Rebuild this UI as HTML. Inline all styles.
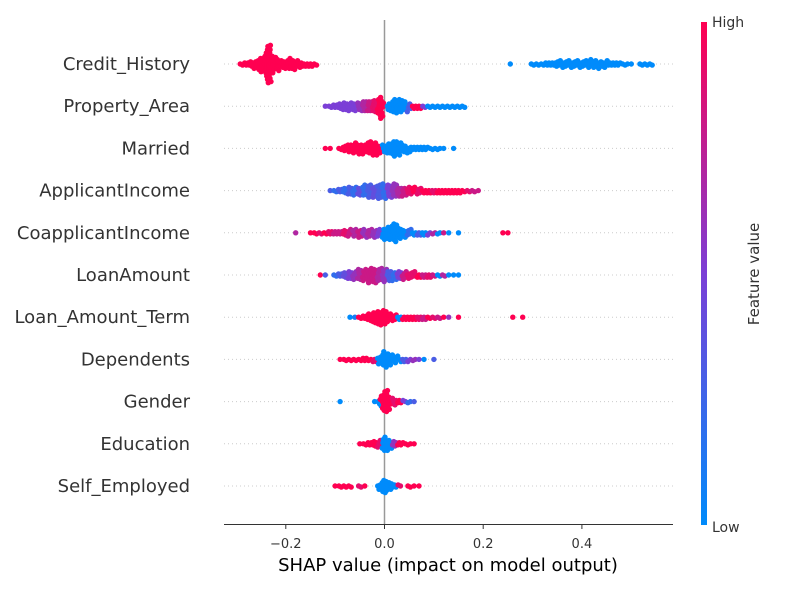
<!DOCTYPE html>
<html><head><meta charset="utf-8"><style>
body{margin:0;background:#fff;}
svg{display:block;font-family:"DejaVu Sans","Liberation Sans",sans-serif;}
</style></head><body>
<svg id="chart" width="800" height="590" viewBox="0 0 800 590">
<defs><linearGradient id="cb" x1="0" y1="1" x2="0" y2="0">
<stop offset="0" stop-color="#008bfb"/><stop offset="0.5" stop-color="#7b3fd6"/><stop offset="1" stop-color="#ff0051"/></linearGradient></defs>
<g id="grid"></g>
<line x1="384.5" y1="20" x2="384.5" y2="524" stroke="#999" stroke-width="1.5"/>
<g id="dots"></g>
<line x1="224" y1="524.5" x2="673" y2="524.5" stroke="#333" stroke-width="1"/>
<g id="ticks"></g>
<text x="448" y="571" font-size="18" text-anchor="middle" fill="#000">SHAP value (impact on model output)</text>
<rect x="701" y="22" width="6" height="503" fill="url(#cb)"/>
<text x="712" y="27" font-size="14" fill="#333">High</text>
<text x="712" y="532" font-size="14" fill="#333">Low</text>
<text transform="translate(759,274) rotate(-90)" font-size="15" text-anchor="middle" fill="#333">Feature value</text>
</svg>
<script>
const features=["Credit_History","Property_Area","Married","ApplicantIncome","CoapplicantIncome","LoanAmount","Loan_Amount_Term","Dependents","Gender","Education","Self_Employed"];
const xTicks=[-0.2,0,0.2,0.4];
const xTickLabels=["\u22120.2","0.0","0.2","0.4"];
// points: [shap, featureValue(0 low..1 high), count]
const ptsCredit=[[-0.29,1,2],[-0.28,1,3],[-0.27,1,4],[-0.26,1,6],[-0.25,1,9],[-0.24,1,12],[-0.235,1,12],[-0.23,1,11],[-0.22,1,8],[-0.21,1,6],[-0.20,1,6],[-0.19,1,7],[-0.18,1,5],[-0.17,1,4],[-0.16,1,3],[-0.15,1,3],[-0.14,1,2],[0.255,0,1],[0.30,0,2],[0.31,0,2],[0.32,0,2],[0.33,0,3],[0.34,0,3],[0.35,0,4],[0.36,0,4],[0.37,0,4],[0.38,0,4],[0.39,0,4],[0.40,0,4],[0.41,0,4],[0.42,0,5],[0.43,0,5],[0.44,0,4],[0.45,0,4],[0.46,0,3],[0.47,0,3],[0.48,0,2],[0.49,0,2],[0.50,0,1],[0.52,0,2],[0.53,0,2],[0.54,0,2]];
const ptsProperty=[[-0.12,0.5,1],[-0.11,0.5,2],[-0.10,0.5,3],[-0.09,0.5,4],[-0.08,0.5,5],[-0.07,0.5,6],[-0.06,0.5,6],[-0.05,0.6,6],[-0.04,0.7,7],[-0.03,0.8,7],[-0.02,0.9,8],[-0.01,1,9],[-0.005,1,7],[0.01,0,6],[0.02,0,8],[0.03,0,9],[0.04,0,7],[0.05,0.3,4],[0.06,1,3],[0.07,1,3],[0.08,0.5,2],[0.09,0,2],[0.10,0,2],[0.11,0,2],[0.12,0,2],[0.13,0,2],[0.14,0,2],[0.15,0,2],[0.16,0,2]];
const ptsMarried=[[-0.12,1,1],[-0.11,1,1],[-0.09,1,2],[-0.08,1,4],[-0.07,1,5],[-0.06,1,7],[-0.05,1,7],[-0.04,1,6],[-0.03,1,8],[-0.02,1,8],[-0.01,1,6],[0.0,0,5],[0.01,0,7],[0.02,0,9],[0.03,0,8],[0.04,0,5],[0.05,0,4],[0.06,0,3],[0.07,0,3],[0.08,0,3],[0.09,0,2],[0.10,0,2],[0.11,0,2],[0.12,0,1],[0.14,0,1]];
const ptsApplicant=[[-0.11,0.3,1],[-0.10,0.2,2],[-0.09,0.3,3],[-0.08,0.2,4],[-0.07,0.3,5],[-0.06,0.2,6],[-0.05,0.4,6],[-0.04,0.2,7],[-0.03,0.3,8],[-0.02,0.4,8],[-0.01,0.3,9],[0.0,0.2,9],[0.01,0.5,8],[0.02,0.6,8],[0.03,0.7,7],[0.04,0.8,6],[0.05,0.9,5],[0.06,1,4],[0.07,0.9,4],[0.08,1,3],[0.09,1,3],[0.10,0.9,3],[0.11,1,3],[0.12,1,3],[0.13,1,3],[0.14,1,3],[0.15,1,3],[0.16,1,2],[0.17,0.9,2],[0.18,0.8,2],[0.19,0.8,1]];
const ptsCoapp=[[-0.18,0.7,1],[-0.15,1,1],[-0.14,1,2],[-0.13,0.9,2],[-0.12,1,2],[-0.11,0.9,3],[-0.10,0.8,3],[-0.09,0.8,3],[-0.08,0.9,4],[-0.07,0.8,4],[-0.06,0.7,5],[-0.05,0.8,5],[-0.04,0.6,5],[-0.03,0.7,5],[-0.02,0.6,5],[-0.01,0.5,5],[0.0,0,7],[0.01,0,10],[0.02,0,11],[0.03,0,8],[0.04,0,5],[0.05,0.2,4],[0.06,0,3],[0.07,0.3,3],[0.08,0,3],[0.09,0.5,2],[0.10,0.7,2],[0.11,0,2],[0.12,0.8,1],[0.13,0,1],[0.15,0,1],[0.24,1,1],[0.25,1,1]];
const ptsLoan=[[-0.13,1,1],[-0.12,0.3,1],[-0.10,0.2,2],[-0.09,0.3,3],[-0.08,0.4,4],[-0.07,0.5,5],[-0.06,0.6,6],[-0.05,0.7,7],[-0.04,0.8,8],[-0.03,0.8,9],[-0.02,0.8,9],[-0.01,0.7,8],[0.0,0.6,8],[0.01,0.3,7],[0.02,0.2,6],[0.03,0.5,6],[0.04,0.8,5],[0.05,0.9,4],[0.06,0.9,4],[0.07,1,3],[0.08,0.8,3],[0.09,0.9,3],[0.10,0.8,2],[0.11,0,2],[0.12,0.7,2],[0.13,0,1],[0.14,0,1],[0.15,0,1]];
const ptsTerm=[[-0.07,0,1],[-0.06,0.1,1],[-0.05,1,2],[-0.04,1,3],[-0.03,1,5],[-0.02,1,8],[-0.01,1,10],[0.0,1,9],[0.01,1,5],[0.02,1,4],[0.03,0,3],[0.04,1,3],[0.05,1,3],[0.06,1,3],[0.07,0.9,3],[0.08,0.8,3],[0.09,1,2],[0.10,0.9,2],[0.11,0.8,2],[0.12,1,1],[0.13,0.6,1],[0.15,1,1],[0.26,1,1],[0.28,1,1]];
const ptsDependents=[[-0.09,1,1],[-0.08,1,2],[-0.07,1,2],[-0.06,1,2],[-0.05,1,2],[-0.04,1,3],[-0.03,1,2],[-0.02,0.9,3],[-0.01,0,5],[0.0,0,10],[0.01,0,8],[0.02,0,5],[0.03,0,3],[0.04,0.3,3],[0.05,0.5,2],[0.06,0.6,2],[0.07,0.5,1],[0.08,0,1],[0.10,0.3,1]];
const ptsGender=[[-0.09,0,1],[-0.02,0,1],[-0.01,0,3],[-0.005,1,4],[0.0,1,8],[0.005,1,6],[0.01,1,5],[0.02,0.9,4],[0.03,1,3],[0.04,0.5,2],[0.05,0.2,2],[0.06,0.3,1]];
const ptsEducation=[[-0.05,1,1],[-0.04,1,2],[-0.03,1,3],[-0.02,1,4],[-0.01,0.9,4],[0.0,0,9],[0.01,0,6],[0.02,0.6,4],[0.03,1,3],[0.04,1,2],[0.05,1,2],[0.06,1,1]];
const ptsSelf=[[-0.10,1,1],[-0.09,1,2],[-0.08,1,2],[-0.07,1,2],[-0.05,0.9,2],[-0.04,1,1],[-0.01,0,4],[0.0,0,10],[0.01,0,6],[0.02,0,3],[0.03,0.9,2],[0.05,1,2],[0.06,1,1],[0.07,1,1]];
const allPts=[ptsCredit,ptsProperty,ptsMarried,ptsApplicant,ptsCoapp,ptsLoan,ptsTerm,ptsDependents,ptsGender,ptsEducation,ptsSelf];

const NS="http://www.w3.org/2000/svg";
const xScale=v=>384.5+v*493.5;
const rowY=i=>64+i*42.2;
function mk(t,a){const e=document.createElementNS(NS,t);for(const k in a)e.setAttribute(k,a[k]);return e;}
function lerp(a,b,t){return Math.round(a+(b-a)*t);}
function colorOf(f){const s=[[0,139,251],[123,63,214],[255,0,81]];let a,b,t;if(f<0.5){a=s[0];b=s[1];t=f/0.5;}else{a=s[1];b=s[2];t=(f-0.5)/0.5;}return `rgb(${lerp(a[0],b[0],t)},${lerp(a[1],b[1],t)},${lerp(a[2],b[2],t)})`;}
const grid=document.getElementById('grid'),dots=document.getElementById('dots'),ticks=document.getElementById('ticks'),svg=document.getElementById('chart');
const binW=4.9;
features.forEach((f,i)=>{
  const y=rowY(i);
  const g=mk('line',{x1:224,x2:673,y1:y,y2:y,stroke:'#ccc','stroke-width':1,'stroke-dasharray':'1,3'});
  
  
  grid.appendChild(g);
  const t=mk('text',{x:190,y:y+6,'font-size':18,'text-anchor':'end',fill:'#333'});
  t.textContent=f;
  
  
  svg.appendChild(t);
  const list=[];
  allPts[i].forEach(p=>{const n=p[2];for(let k=0;k<n;k++)list.push({x:xScale(p[0])+(n>1?((k+0.5)/n-0.5)*binW:0),c:p[1]});});
  list.sort((a,b)=>a.x-b.x);
  const placed=[];const D=2.6;
  list.forEach(p=>{
    let off=0;
    for(let n=0;n<200;n++){
      const cand=n===0?0:(n%2?1:-1)*Math.ceil(n/2)*1.1;
      let ok=true;
      for(const q of placed){const dx=q.x-p.x;if(Math.abs(dx)<D){const dy=q.y-cand;if(dx*dx+dy*dy<D*D){ok=false;break;}}}
      if(ok){off=cand;break;}
    }
    placed.push({x:p.x,y:off});
    const c=mk('circle',{cx:p.x.toFixed(1),cy:(y+off).toFixed(1),r:2.7,fill:colorOf(p.c)});
    
    
    dots.appendChild(c);
  });
});
xTicks.forEach((v,i)=>{
  const x=xScale(v);
  const l=mk('line',{x1:x,x2:x,y1:524,y2:529,stroke:'#333'});
  
  
  ticks.appendChild(l);
  const t=mk('text',{x:x,y:548,'font-size':13,'text-anchor':'middle',fill:'#333'});
  t.textContent=xTickLabels[i];
  
  
  ticks.appendChild(t);
});
</script>
</body></html>
